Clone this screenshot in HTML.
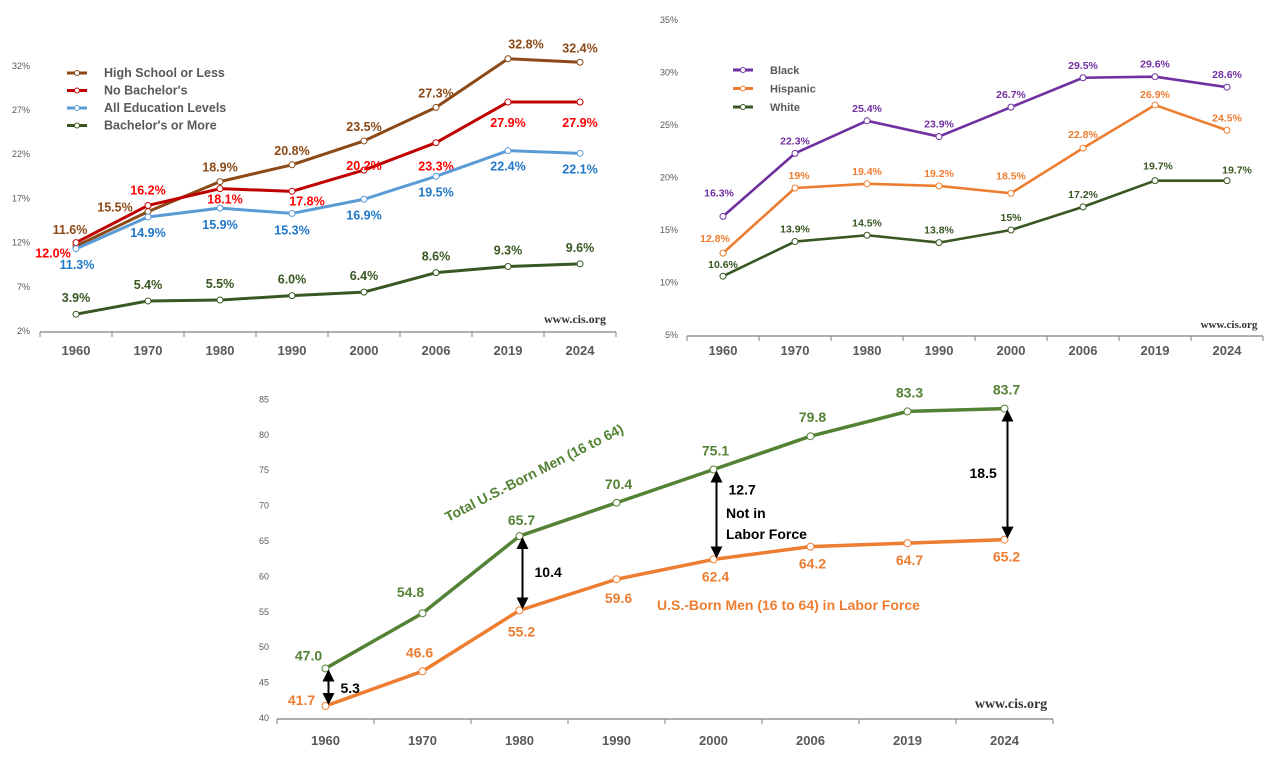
<!DOCTYPE html>
<html><head><meta charset="utf-8">
<style>
html,body{margin:0;padding:0;background:#fff;}
svg{display:block;font-family:"Liberation Sans Narrow","Liberation Sans",sans-serif;font-weight:bold;}
.tick{font-size:9px;fill:#595959;font-weight:normal;}
.cat{font-size:13px;fill:#595959;}
.cis{font-family:"Liberation Serif",serif;font-weight:bold;fill:#333;}
</style></head>
<body>
<svg id="root" width="1269" height="759" viewBox="0 0 1269 759"></svg>
<script>
const categories = ["1960","1970","1980","1990","2000","2006","2019","2024"];
// Chart 1: poverty by education
const hsValues = [11.6,15.5,18.9,20.8,23.5,27.3,32.8,32.4];
const noBachValues = [12.0,16.2,18.1,17.8,20.2,23.3,27.9,27.9];
const allEduValues = [11.3,14.9,15.9,15.3,16.9,19.5,22.4,22.1];
const bachValues = [3.9,5.4,5.5,6.0,6.4,8.6,9.3,9.6];
const ticks1 = [2,7,12,17,22,27,32];
// Chart 2: by race
const blackValues = [16.3,22.3,25.4,23.9,26.7,29.5,29.6,28.6];
const hispValues = [12.8,19,19.4,19.2,18.5,22.8,26.9,24.5];
const whiteValues = [10.6,13.9,14.5,13.8,15,17.2,19.7,19.7];
const ticks2 = [5,10,15,20,25,30,35];
// Chart 3: men
const totalMen = [47.0,54.8,65.7,70.4,75.1,79.8,83.3,83.7];
const laborMen = [41.7,46.6,55.2,59.6,62.4,64.2,64.7,65.2];
const ticks3 = [40,45,50,55,60,65,70,75,80,85];

const NS="http://www.w3.org/2000/svg";
const root=document.getElementById('root');
function mk(tag,attrs,parent,text){const e=document.createElementNS(NS,tag);for(const k in attrs)e.setAttribute(k,attrs[k]);if(text!==undefined)e.textContent=text;(parent||root).appendChild(e);return e;}

function chart(cfg){
  const g=mk('g',{});
  
  
  const x=i=>cfg.x0+cfg.band*(i+0.5);
  const y=v=>cfg.yBase-(v-cfg.vMin)*cfg.ppu;
  // y tick labels
  cfg.ticks.forEach(t=>{
    const e=mk('text',{x:cfg.tickX,y:y(t)+3,'text-anchor':'end',class:'tick','font-size':cfg.tickSize},g,t+cfg.suffix);
    
    
  });
  // axis
  const ax=mk('line',{x1:cfg.x0,x2:cfg.x0+cfg.band*categories.length,y1:cfg.yBase+1,y2:cfg.yBase+1,stroke:'#7f7f7f','stroke-width':1.3},g);
  
  
  for(let i=0;i<=categories.length;i++){
    mk('line',{x1:cfg.x0+cfg.band*i,x2:cfg.x0+cfg.band*i,y1:cfg.yBase+1,y2:cfg.yBase+6,stroke:'#7f7f7f','stroke-width':1},g);
  }
  categories.forEach((c,i)=>{
    const e=mk('text',{x:x(i),y:cfg.yBase+cfg.catDy,'text-anchor':'middle',class:'cat','font-size':cfg.catSize},g,c);
    
    
  });
  cfg.series.forEach(s=>{
    const pts=s.values.map((v,i)=>x(i)+','+y(v)).join(' ');
    const l=mk('polyline',{points:pts,fill:'none',stroke:s.color,'stroke-width':cfg.lw,'stroke-linejoin':'round'},g);
    
    
    s.values.forEach((v,i)=>{
      const c=mk('circle',{cx:x(i),cy:y(v),r:cfg.r,fill:'#fff',stroke:s.color,'stroke-width':1},g);
      
      
      const off=s.off[i];
      const t=mk('text',{x:x(i)+off[0],y:y(v)+off[1],'text-anchor':'middle','font-size':cfg.lblSize,fill:s.lcolor},g,s.fmt(v));
      
      
    });
  });
  return {g,x,y};
}
const pct1=v=>v.toFixed(1)+'%';
const pct2=v=>(Number.isInteger(v)?v:v.toFixed(1))+'%';
const up=d=>Array(8).fill([0,-d]);

const c1=chart({name:'education-chart',x0:40,band:72,yBase:331,vMin:2,ppu:8.84,ticks:ticks1,suffix:'%',tickX:30,tickSize:9,catDy:24,catSize:12.5,lw:3,r:3,lblSize:12.5,
 series:[
  {id:'high-school',values:hsValues,color:'#8B4A17',lcolor:'#8B4A17',fmt:pct1,off:[[-6,-12],[-33,0],[0,-10],[0,-10],[0,-10],[0,-10],[18,-10],[0,-10]]},
  {id:'no-bachelors',values:noBachValues,color:'#C00000',lcolor:'#FF0000',fmt:pct1,off:[[-23,15],[0,-11],[5,15],[15,14],[0,-0],[0,28],[0,25],[0,25]]},
  {id:'all-education',values:allEduValues,color:'#5B9BD5',lcolor:'#1F78C8',fmt:pct1,off:[[1,20],[0,20],[0,21],[0,21],[0,20],[0,20],[0,20],[0,20]]},
  {id:'bachelors',values:bachValues,color:'#385723',lcolor:'#385723',fmt:pct1,off:up(12)}
 ]});
const c2=chart({name:'race-chart',x0:687,band:72,yBase:335,vMin:5,ppu:10.5,ticks:ticks2,suffix:'%',tickX:678,tickSize:8,catDy:20,catSize:10.5,lw:2.6,r:3,lblSize:10.5,
 series:[
  {id:'black',values:blackValues,color:'#7030A0',lcolor:'#7030A0',fmt:pct2,off:[[-4,-20],[0,-9],[0,-9],[0,-9],[0,-9],[0,-9],[0,-9],[0,-9]]},
  {id:'hispanic',values:hispValues,color:'#ED7D31',lcolor:'#ED7D31',fmt:pct2,off:[[-8,-11],[4,-9],[0,-9],[0,-9],[0,-14],[0,-10],[0,-7],[0,-9]]},
  {id:'white',values:whiteValues,color:'#385723',lcolor:'#385723',fmt:pct2,off:[[0,-8],[0,-9],[0,-9],[0,-9],[0,-9],[0,-9],[3,-11],[10,-7]]}
 ]});
const c3=chart({name:'labor-force-chart',x0:277,band:97,yBase:718,vMin:40,ppu:7.08,ticks:ticks3,suffix:'',tickX:269,tickSize:11,catDy:27,catSize:14,lw:3.5,r:3.5,lblSize:14,
 series:[
  {id:'total-men',values:totalMen,color:'#548235',lcolor:'#548235',fmt:v=>v.toFixed(1),off:[[-17,-8],[-12,-16],[2,-11],[2,-14],[2,-14],[2,-14],[2,-14],[2,-14]]},
  {id:'labor-force-men',values:laborMen,color:'#ED7D31',lcolor:'#ED7D31',fmt:v=>v.toFixed(1),off:[[-24,-1],[-3,-14],[2,26],[2,24],[2,22],[2,22],[2,22],[2,22]]}
 ]});

// legends
function legend(items,x,y0,dy,size,name){
  items.forEach((it,k)=>{
    const yy=y0+dy*k;
    const l=mk('line',{x1:x,x2:x+20,y1:yy,y2:yy,stroke:it[1],'stroke-width':3});
    
    
    mk('circle',{cx:x+10,cy:yy,r:2.5,fill:'#fff',stroke:it[1]});
    const t=mk('text',{x:x+37,y:yy+4,'font-size':size,fill:'#595959'},root,it[0]);
    
    
  });
}
legend([["High School or Less","#8B4A17"],["No Bachelor's","#C00000"],["All Education Levels","#5B9BD5"],["Bachelor's or More","#385723"]],67,73,17.5,12.5,'legend-entry');
legend([["Black","#7030A0"],["Hispanic","#ED7D31"],["White","#385723"]],733,70,18.5,11,'legend-entry');

// watermarks
[[575,323,12],[1229,328,11],[1011,708,14]].forEach(p=>{
  const t=mk('text',{x:p[0],y:p[1],'text-anchor':'middle',class:'cis','font-size':p[2]},root,'www.cis.org');
  
  
});

// chart 3 annotations
mk('defs',{}).innerHTML='<marker id="ah" markerWidth="6" markerHeight="6" refX="3" refY="3" orient="auto-start-reverse" markerUnits="strokeWidth"><path d="M0,0 L6,3 L0,6 z" fill="#000"/></marker>';
const gaps=[[0,'5.3',12,6],[2,'10.4',12,4],[4,'12.7',12,-20],[7,'18.5',-38,4]];
gaps.forEach(gp=>{
  const i=gp[0];const xx=c3.x(i)+3;
  const a=mk('line',{x1:xx,x2:xx,y1:c3.y(totalMen[i])+7,y2:c3.y(laborMen[i])-7,stroke:'#000','stroke-width':2,'marker-start':'url(#ah)','marker-end':'url(#ah)'});
  
  
  const ym=(c3.y(totalMen[i])+c3.y(laborMen[i]))/2;
  const t=mk('text',{x:xx+gp[2],y:ym+gp[3],'font-size':14,fill:'#000'},root,gp[1]);
  
  
});
const nl1=mk('text',{x:726,y:518,'font-size':14,fill:'#000'},root,'Not in');


const nl2=mk('text',{x:726,y:539,'font-size':14,fill:'#000'},root,'Labor Force');


const s1=mk('text',{x:448,y:522,'font-size':14,fill:'#548235',transform:'rotate(-27 448 522)'},root,'Total U.S.-Born  Men (16 to 64)');


const s2=mk('text',{x:657,y:610,'font-size':14,fill:'#ED7D31'},root,'U.S.-Born Men (16 to 64) in Labor Force');


</script>
</body></html>
